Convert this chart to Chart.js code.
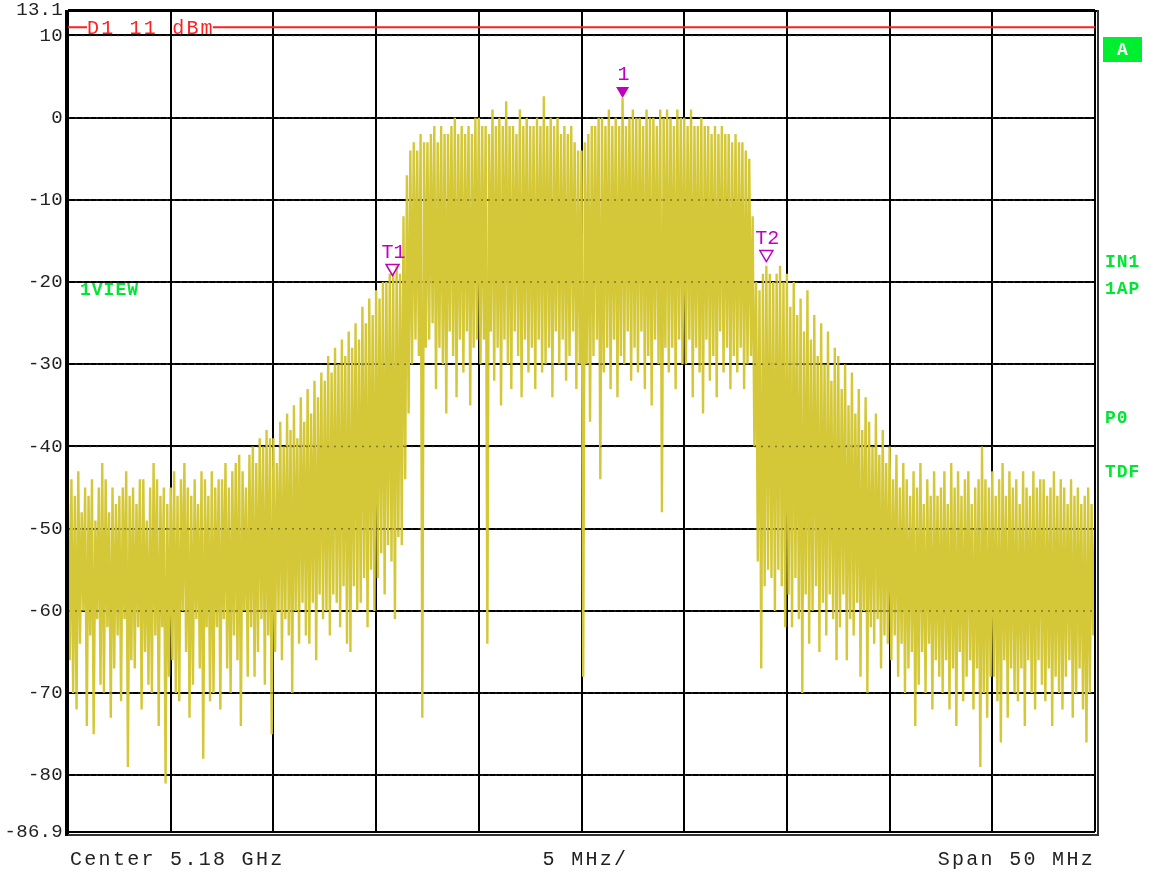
<!DOCTYPE html>
<html>
<head>
<meta charset="utf-8">
<script src="https://cdn.jsdelivr.net/npm/chart.js@4.4.0/dist/chart.umd.min.js"></script>
<style>
  html, body { margin: 0; padding: 0; background: #fff; }
  canvas { display: block; }
</style>
</head>
<body>
<canvas id="specChart" width="1151" height="877"></canvas>
<script>
// sweep: center 5.18 GHz, span 50 MHz -> offsets in MHz
const spanStart = -25;
const spanEnd = 25;
const yTicks = [-86.9, -80, -70, -60, -50, -40, -30, -20, -10, 0, 10, 13.1];
const displayLine = 11; // D1 11 dBm

// trace levels in dBm left to right (30 per 2.5 MHz)
const trace = [
  -47, -66, -44, -70, -46, -72, -43, -64, -48, -60, -45, -74, -46, -63, -44, -75, -49, -61, -45, -69, -42, -70, -44, -62, -48, -73, -45, -67, -47, -63,
  -46, -71, -45, -61, -43, -79, -46, -66, -45, -67, -47, -62, -44, -72, -44, -65, -49, -69, -45, -70, -42, -63, -44, -74, -46, -62, -45, -81, -47, -68,
  -45, -66, -43, -70, -46, -71, -44, -60, -42, -65, -45, -73, -46, -69, -44, -61, -47, -67, -43, -78, -44, -62, -46, -71, -43, -70, -45, -62, -44, -72,
  -44, -61, -42, -67, -45, -70, -43, -63, -42, -66, -41, -74, -43, -60, -45, -68, -41, -62, -40, -68, -42, -65, -39, -61, -40, -69, -38, -63, -39, -75,
  -39, -65, -42, -60, -37, -66, -40, -61, -36, -63, -38, -70, -35, -60, -39, -64, -34, -59, -37, -63, -33, -64, -36, -59, -32, -66, -34, -58, -31, -61,
  -32, -60, -29, -63, -31, -58, -28, -59, -30, -62, -27, -57, -29, -64, -26, -65, -28, -57, -25, -60, -27, -59, -23, -56, -25, -62, -22, -55, -24, -60,
  -21, -56, -22, -53, -20, -58, -20, -52, -19, -54, -19, -61, -18, -51, -19, -52, -12, -44, -7, -36, -4, -30, -3, -27, -4, -29, -2, -73, -3, -28,
  -3, -27, -2, -25, -1, -33, -3, -28, -1, -30, -2, -36, -2, -26, -1, -29, 0, -34, -2, -27, -1, -31, -2, -26, -1, -35, -2, -28, 0, -27,
  0, -30, -1, -27, -1, -64, -2, -26, 1, -32, -1, -28, 0, -35, -1, -27, 2, -30, -1, -33, -1, -26, -2, -29, 1, -34, -1, -27, 0, -31,
  -1, -28, -1, -33, 0, -27, -1, -31, 2.6, -30, -1, -28, 0, -34, -1, -26, 0, -30, -2, -27, -1, -32, -2, -29, -1, -26, -3, -33, -4, -30,
  -4, -68, -3, -30, -2, -37, -1, -29, -1, -27, 0, -44, 0, -31, -1, -28, 1, -33, -1, -27, 0, -34, -1, -29, 2.4, -30, -1, -26, 0, -32,
  1, -28, 0, -31, 0, -26, -1, -33, 1, -29, 0, -35, 0, -27, -1, -30, 1, -48, 0, -28, 1, -31, 0, -28, -1, -33, 1, -27, 0, -30,
  0, -30, -1, -27, 1, -34, -1, -28, -1, -31, 0, -36, -1, -27, -1, -32, -2, -29, -1, -34, -2, -26, -1, -31, -2, -28, -2, -33, -3, -29,
  -2, -31, -3, -28, -3, -33, -4, -30, -5, -29, -12, -40, -20, -54, -21, -67, -19, -57, -18, -55, -19, -56, -20, -60, -19, -55, -18, -57, -20, -62,
  -19, -58, -23, -62, -20, -56, -24, -61, -22, -70, -26, -58, -21, -64, -27, -60, -24, -57, -29, -65, -25, -59, -30, -63, -26, -58, -32, -61, -28, -66,
  -29, -62, -33, -58, -30, -66, -35, -61, -31, -63, -36, -59, -33, -68, -38, -60, -34, -70, -37, -62, -40, -64, -36, -61, -41, -67, -38, -63, -42, -64,
  -40, -66, -44, -63, -41, -68, -45, -64, -42, -70, -44, -67, -46, -65, -43, -74, -45, -69, -42, -65, -47, -70, -44, -64, -46, -72, -43, -66, -46, -68,
  -45, -70, -43, -66, -47, -72, -42, -67, -45, -74, -43, -65, -46, -71, -44, -68, -43, -66, -47, -72, -45, -67, -44, -79, -40, -70, -44, -73, -45, -68,
  -43, -68, -46, -71, -44, -76, -42, -66, -46, -73, -43, -67, -45, -70, -44, -71, -47, -67, -43, -74, -45, -66, -46, -70, -43, -72, -45, -66, -44, -69,
  -44, -71, -46, -67, -45, -74, -43, -68, -46, -70, -44, -72, -45, -68, -47, -66, -44, -73, -46, -70, -45, -67, -47, -72, -46, -76, -45, -70, -47, -63,
  -50
];

// markers: name, offset (MHz), level (dBm), filled?
const markerNames = ['1', 'T1', 'T2'];
const markerFreqs = [2.0, -9.2, 9.0];
const markerLevels = [2.4, -19.2, -17.5];
const markerFilled = [true, false, false];

const sideLabels = ['IN1', '1AP', 'P0', 'TDF'];
const bottomLabels = ['Center 5.18 GHz', '5 MHz/', 'Span 50 MHz'];

const step = (spanEnd - spanStart) / (trace.length - 1);
const tracePoints = trace.map((v, i) => ({ x: spanStart + i * step, y: v }));

const MONO = '"Liberation Mono", "DejaVu Sans Mono", monospace';
const GREEN = '#00e632';
const MAGENTA = '#c000c0';

const decor = {
  id: 'decor',
  afterDatasetsDraw(chart) {
    const ctx = chart.ctx;
    const a = chart.chartArea;
    const xs = chart.scales.x;
    const ys = chart.scales.y;
    ctx.save();

    // grid shows through the trace as dots
    ctx.strokeStyle = 'rgba(60,60,40,0.55)';
    ctx.lineWidth = 1.5;
    ctx.setLineDash([2, 5]);
    ctx.beginPath();
    yTicks.slice(1, -1).forEach(v => {
      const y = ys.getPixelForValue(v);
      ctx.moveTo(a.left, y); ctx.lineTo(a.right, y);
    });
    ctx.stroke();
    ctx.setLineDash([]);

    // frame
    ctx.strokeStyle = '#000';
    ctx.lineWidth = 4;
    ctx.beginPath();
    ctx.moveTo(a.left - 1, a.top);
    ctx.lineTo(a.left - 1, a.bottom + 4);
    ctx.stroke();
    ctx.lineWidth = 2;
    ctx.beginPath();
    ctx.moveTo(a.left, a.top + 1); ctx.lineTo(a.right + 3, a.top + 1);
    ctx.moveTo(a.right, a.top); ctx.lineTo(a.right, a.bottom);
    ctx.moveTo(a.left, a.bottom); ctx.lineTo(a.right, a.bottom);
    ctx.stroke();
    ctx.strokeStyle = '#333';
    ctx.beginPath();
    ctx.moveTo(a.right + 3, a.top); ctx.lineTo(a.right + 3, a.bottom + 4);
    ctx.moveTo(a.left, a.bottom + 3); ctx.lineTo(a.right + 3, a.bottom + 3);
    ctx.stroke();

    // D1 display line with its label
    const yd = ys.getPixelForValue(displayLine);
    ctx.font = '20px ' + MONO;
    ctx.letterSpacing = '2.2px';
    const label = 'D1 11 dBm';
    const tx = a.left + 19;
    const tw = ctx.measureText(label).width;
    ctx.strokeStyle = '#ff2020';
    ctx.lineWidth = 2;
    ctx.beginPath();
    ctx.moveTo(a.left, yd); ctx.lineTo(tx, yd);
    ctx.moveTo(tx + tw - 2, yd); ctx.lineTo(a.right, yd);
    ctx.stroke();
    ctx.fillStyle = '#ff2020';
    ctx.textBaseline = 'middle';
    ctx.textAlign = 'left';
    ctx.fillText(label, tx, yd + 1);

    // markers
    ctx.letterSpacing = '0px';
    ctx.font = '20px ' + MONO;
    ctx.textAlign = 'center';
    ctx.textBaseline = 'bottom';
    markerNames.forEach((name, i) => {
      const px = xs.getPixelForValue(markerFreqs[i]);
      const py = ys.getPixelForValue(markerLevels[i]);
      ctx.beginPath();
      ctx.moveTo(px, py);
      ctx.lineTo(px - 6.5, py - 11);
      ctx.lineTo(px + 6.5, py - 11);
      ctx.closePath();
      if (markerFilled[i]) {
        ctx.fillStyle = MAGENTA;
        ctx.fill();
      } else {
        ctx.strokeStyle = MAGENTA;
        ctx.lineWidth = 1.5;
        ctx.stroke();
      }
      ctx.fillStyle = MAGENTA;
      ctx.fillText(name, px + 1, py - 13);
    });
    ctx.restore();
  },
  afterDraw(chart) {
    const ctx = chart.ctx;
    const a = chart.chartArea;
    const ys = chart.scales.y;
    ctx.save();

    // level axis labels
    ctx.font = '19px ' + MONO;
    ctx.letterSpacing = '0.3px';
    ctx.fillStyle = '#222';
    ctx.textAlign = 'right';
    ctx.textBaseline = 'middle';
    yTicks.forEach(v => ctx.fillText(String(v), a.left - 5, ys.getPixelForValue(v)));

    // green status labels
    ctx.letterSpacing = '0px';
    ctx.fillStyle = '#00ee30';
    ctx.fillRect(a.right + 8, 37, 39, 25);
    ctx.font = 'bold 18px ' + MONO;
    ctx.fillStyle = '#fff';
    ctx.textAlign = 'center';
    ctx.fillText('A', a.right + 27.5, 50);

    ctx.letterSpacing = '1px';
    ctx.fillStyle = GREEN;
    ctx.textAlign = 'left';
    const sideY = [262, 289, 418, 472];
    sideLabels.forEach((t, i) => ctx.fillText(t, a.right + 10, sideY[i]));
    ctx.fillText('1VIEW', a.left + 12, 290);

    // footer
    ctx.font = '20px ' + MONO;
    ctx.letterSpacing = '2.3px';
    ctx.fillStyle = '#222';
    ctx.textAlign = 'left';
    ctx.fillText(bottomLabels[0], a.left + 2, 860);
    ctx.textAlign = 'center';
    ctx.fillText(bottomLabels[1], (a.left + a.right) / 2 + 4, 860);
    ctx.textAlign = 'right';
    ctx.fillText(bottomLabels[2], a.right, 860);
    ctx.restore();
  }
};

new Chart(document.getElementById('specChart'), {
  type: 'line',
  data: {
    datasets: [{
      data: tracePoints,
      borderColor: '#d4c838',
      borderWidth: 2.4,
      borderJoinStyle: 'miter',
      pointRadius: 0,
      tension: 0,
      fill: false
    }]
  },
  options: {
    responsive: false,
    animation: false,
    devicePixelRatio: 1,
    layout: { padding: { top: 10, right: 56, left: 0, bottom: 0 } },
    plugins: { legend: { display: false }, tooltip: { enabled: false } },
    scales: {
      x: {
        type: 'linear',
        min: spanStart,
        max: spanEnd,
        ticks: { display: false, stepSize: 5 },
        grid: { color: '#000', lineWidth: 2, drawTicks: false },
        border: { display: false },
        afterFit: s => { s.height = 45; }
      },
      y: {
        type: 'linear',
        min: yTicks[0],
        max: yTicks[yTicks.length - 1],
        afterBuildTicks: s => { s.ticks = yTicks.map(v => ({ value: v })); },
        ticks: { display: false },
        grid: { color: '#000', lineWidth: 2, drawTicks: false },
        border: { display: false },
        afterFit: s => { s.width = 68; }
      }
    }
  },
  plugins: [decor]
});
</script>
</body>
</html>
